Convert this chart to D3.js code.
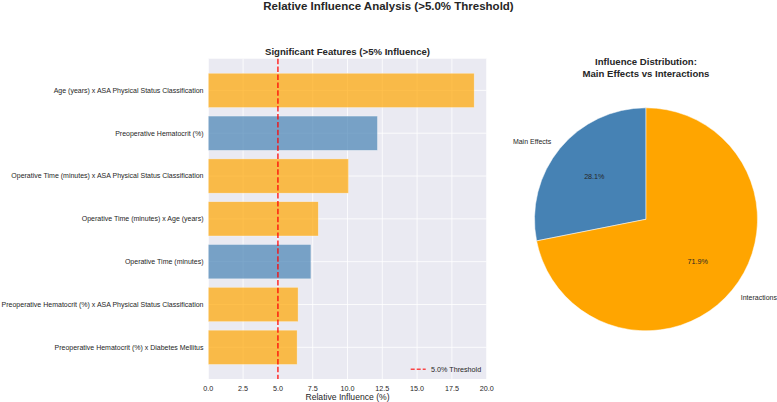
<!DOCTYPE html>
<html>
<head>
<meta charset="utf-8">
<script src="https://cdn.jsdelivr.net/npm/d3@7"></script>
<style>
  html, body { margin: 0; padding: 0; background: #fff; }
  svg { display: block; font-family: "Liberation Sans", Arial, sans-serif; }
</style>
</head>
<body>
<svg id="chart" width="777" height="402"></svg>
<script>
// ---- data ----
const features = [
  "Age (years) x ASA Physical Status Classification",
  "Preoperative Hematocrit (%)",
  "Operative Time (minutes) x ASA Physical Status Classification",
  "Operative Time (minutes) x Age (years)",
  "Operative Time (minutes)",
  "Preoperative Hematocrit (%) x ASA Physical Status Classification",
  "Preoperative Hematocrit (%) x Diabetes Mellitus"
];
const influence = [19.1, 12.15, 10.07, 7.9, 7.37, 6.45, 6.38];
const featureType = ["interaction", "main", "interaction", "interaction", "main", "interaction", "interaction"];
const xTicks = [0, 2.5, 5, 7.5, 10, 12.5, 15, 17.5, 20];
const threshold = 5.0;
const pieLabels = ["Main Effects", "Interactions"];
const pieValues = [28.1, 71.9];

// ---- styles ----
const colorMain = "#4682B4";
const colorInter = "#FFA500";
const textColor = "#262626";

const svg = d3.select("#chart");

// main title
svg.append("text")
  .attr("x", 388.5).attr("y", 9.5)
  .attr("text-anchor", "middle")
  .attr("font-size", 11.5).attr("font-weight", "bold")
  .attr("fill", textColor)
  .text("Relative Influence Analysis (>5.0% Threshold)");

// ---- bar chart ----
const L = 208.3, R = 486.7, T = 58.7, B = 379;
const x = d3.scaleLinear().domain([0, 20]).range([L, R]);
const y = d3.scaleLinear().domain([-0.74, features.length - 1 + 0.74]).range([T, B]);

const g = svg.append("g");
g.append("rect").attr("x", L).attr("y", T).attr("width", R - L).attr("height", B - T).attr("fill", "#EAEAF2");

// grid
g.selectAll("line.vg").data(xTicks).enter().append("line")
  .attr("x1", d => x(d)).attr("x2", d => x(d)).attr("y1", T).attr("y2", B)
  .attr("stroke", "#fff").attr("stroke-width", 0.8);
g.selectAll("line.hg").data(features).enter().append("line")
  .attr("x1", L).attr("x2", R).attr("y1", (d, i) => y(i)).attr("y2", (d, i) => y(i))
  .attr("stroke", "#fff").attr("stroke-width", 0.8);

// bars
g.selectAll("rect.bar").data(influence).enter().append("rect")
  .attr("x", x(0))
  .attr("y", (d, i) => y(i - 0.4))
  .attr("width", d => x(d) - x(0))
  .attr("height", (d, i) => y(i + 0.4) - y(i - 0.4))
  .attr("fill", (d, i) => featureType[i] === "main" ? colorMain : colorInter)
  .attr("fill-opacity", 0.7)
  .attr("stroke", "#fff").attr("stroke-opacity", 0.5).attr("stroke-width", 0.6);

// threshold line
g.append("line")
  .attr("x1", x(threshold)).attr("x2", x(threshold)).attr("y1", T).attr("y2", B)
  .attr("stroke", "red").attr("stroke-opacity", 0.7).attr("stroke-width", 1.8)
  .attr("stroke-dasharray", "5.5,2.4");

// y labels
g.selectAll("text.yl").data(features).enter().append("text")
  .attr("x", 203.5).attr("y", (d, i) => y(i)).attr("dy", "0.35em")
  .attr("text-anchor", "end").attr("font-size", 7.0).attr("fill", textColor)
  .text(d => d);

// x tick labels
g.selectAll("text.xt").data(xTicks).enter().append("text")
  .attr("x", d => x(d)).attr("y", 388.5).attr("dy", "0.35em")
  .attr("text-anchor", "middle").attr("font-size", 7.2).attr("fill", textColor)
  .text(d => d3.format(".1f")(d));

// x label
g.append("text").attr("x", (L + R) / 2).attr("y", 400)
  .attr("text-anchor", "middle").attr("font-size", 8.6).attr("fill", textColor)
  .text("Relative Influence (%)");

// subplot title
g.append("text").attr("x", (L + R) / 2).attr("y", 54.5)
  .attr("text-anchor", "middle").attr("font-size", 9.6).attr("font-weight", "bold").attr("fill", textColor)
  .text("Significant Features (>5% Influence)");

// legend
g.append("line").attr("x1", 410.7).attr("x2", 425.7).attr("y1", 369.3).attr("y2", 369.3)
  .attr("stroke", "red").attr("stroke-opacity", 0.7).attr("stroke-width", 1.5)
  .attr("stroke-dasharray", "4,2");
g.append("text").attr("x", 431).attr("y", 369.3).attr("dy", "0.35em")
  .attr("font-size", 7.2).attr("fill", textColor).text("5.0% Threshold");

// ---- pie ----
const cx = 646, cy = 219.3, r = 111.5;
const pg = svg.append("g").attr("transform", `translate(${cx},${cy})`);
const pie = d3.pie().sort(null).startAngle(0).endAngle(-2 * Math.PI);
const arcs = pie(pieValues);
const arc = d3.arc().innerRadius(0).outerRadius(r);
const pieColors = [colorMain, colorInter];
pg.selectAll("path").data(arcs).enter().append("path")
  .attr("d", arc).attr("fill", (d, i) => pieColors[i])
  .attr("stroke", "#fff").attr("stroke-width", 0.5);

arcs.forEach((a, i) => {
  const mid = (a.startAngle + a.endAngle) / 2;
  const sx = Math.sin(mid), sy = -Math.cos(mid);
  pg.append("text")
    .attr("x", 1.1 * r * sx).attr("y", 1.1 * r * sy).attr("dy", "0.35em")
    .attr("text-anchor", sx < 0 ? "end" : "start")
    .attr("font-size", 7.0).attr("fill", textColor)
    .text(pieLabels[i]);
  pg.append("text")
    .attr("x", 0.6 * r * sx).attr("y", 0.6 * r * sy).attr("dy", "0.35em")
    .attr("text-anchor", "middle")
    .attr("font-size", 7.2).attr("fill", textColor)
    .text(d3.format(".1f")(pieValues[i]) + "%");
});

svg.append("text").attr("x", cx).attr("y", 64.5)
  .attr("text-anchor", "middle").attr("font-size", 9.6).attr("font-weight", "bold").attr("fill", textColor)
  .text("Influence Distribution:");
svg.append("text").attr("x", cx).attr("y", 76.5)
  .attr("text-anchor", "middle").attr("font-size", 9.6).attr("font-weight", "bold").attr("fill", textColor)
  .text("Main Effects vs Interactions");
</script>
</body>
</html>
